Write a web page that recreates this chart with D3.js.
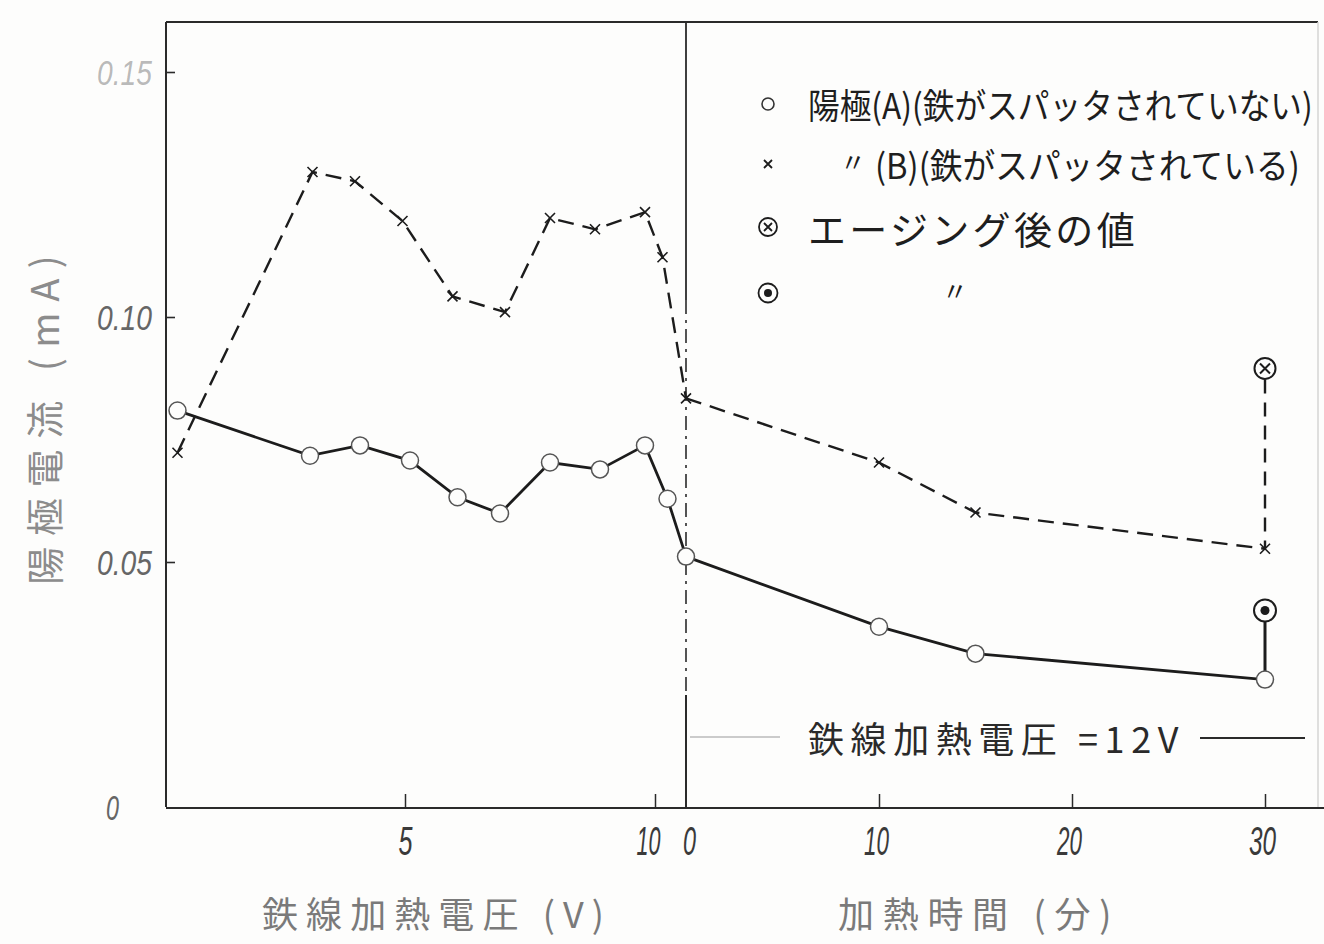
<!DOCTYPE html>
<html>
<head>
<meta charset="utf-8">
<script src="https://cdn.jsdelivr.net/npm/d3@7"></script>
<style>
  html, body { margin: 0; padding: 0; background: #fdfdfc; }
  svg { display: block; }
</style>
</head>
<body>
<script>
// Anode current vs. iron-wire heating voltage (left) and heating time at 12 V (right)

// Left panel: heating voltage (V)
const voltsA    = [0.45, 3.1, 4.1, 5.1, 6.05, 6.9, 7.9, 8.9, 9.8, 10.25, 10.62];
const currentA_V = [0.0809, 0.0717, 0.0738, 0.0707, 0.0632, 0.0599, 0.0703, 0.0689, 0.0738, 0.0629, 0.0511];
const voltsB    = [0.45, 3.15, 4.0, 4.95, 5.95, 7.0, 7.9, 8.8, 9.8, 10.15, 10.62];
const currentB_V = [0.0723, 0.1296, 0.1277, 0.1196, 0.1042, 0.1010, 0.1202, 0.1179, 0.1214, 0.1122, 0.0834];

// Right panel: heating time (min)
const minutes     = [0, 10, 15, 30];
const currentA_T  = [0.0511, 0.0368, 0.0313, 0.0260];
const currentB_T  = [0.0834, 0.0703, 0.0601, 0.0527];

// Values after ageing (at 30 min)
const agedTime = 30;
const agedA = 0.0401;
const agedB = 0.0895;

// Axis ticks and labels
const yTicks      = [0, 0.05, 0.10, 0.15];
const yTickLabels = ["0", "0.05", "0.10", "0.15"];
const voltTicks   = [5, 10];
const timeTicks   = [0, 10, 20, 30];

// Text
const yTitle     = "陽極電流 (mA)";
const voltTitle  = "鉄線加熱電圧 (V)";
const timeTitle  = "加熱時間 (分)";
const noteText   = "鉄線加熱電圧 =12V";
const legendMarkers = ["circle", "cross", "agedCross", "agedDot"];
const legendLabels  = ["陽極(A)(鉄がスパッタされていない)", "〃(B)(鉄がスパッタされている)", "エージング後の値", "〃"];

// ---------- layout ----------
const W = 1324, H = 944;
const plotLeft = 166, plotTop = 22, plotBottom = 807, divX = 686, rightEdge = 1318;
const ink = "#1c1c1c";
const jp = "'Noto Sans CJK JP', 'Noto Sans CJK SC', sans-serif";
const num = "'Liberation Sans', 'DejaVu Sans', sans-serif";

const svg = d3.select("body").append("svg").attr("width", W).attr("height", H);

const y  = d3.scaleLinear().domain([0, 0.15]).range([plotBottom, 72]);
const xV = d3.scaleLinear().domain([0.22, 10.62]).range([plotLeft, divX]);
const xT = d3.scaleLinear().domain([0, 30]).range([divX, 1265]);

// Fit a text to `width` pixels: narrow lettering is squeezed horizontally,
// short text is spread out with letter spacing.
function fit(text, width, anchorX, anchorY, extra = "") {
  text.attr("x", 0).attr("y", 0);
  const natural = text.node().getComputedTextLength();
  const n = text.text().length;
  if (natural < width && n > 1) {
    const ls = (width - natural) / n;
    text.attr("letter-spacing", ls)
      .attr("transform", `translate(${anchorX},${anchorY}) ${extra}`);
    if (text.attr("text-anchor") === "middle") text.attr("x", ls / 2);
  } else {
    const sx = width / natural;
    text.attr("transform", `translate(${anchorX},${anchorY}) ${extra} scale(${sx},1)`);
  }
  return text;
}

// ---------- frame ----------
const frame = svg.append("g").attr("stroke", "#2a2a2a").attr("fill", "none");
frame.append("line").attr("x1", plotLeft).attr("y1", plotTop).attr("x2", plotLeft).attr("y2", plotBottom).attr("stroke-width", 2);
frame.append("line").attr("x1", plotLeft).attr("y1", plotTop).attr("x2", rightEdge).attr("y2", plotTop).attr("stroke-width", 2);
frame.append("line").attr("x1", rightEdge).attr("y1", plotTop).attr("x2", rightEdge).attr("y2", plotBottom)
  .attr("stroke", "#d4d4d4").attr("stroke-width", 1.5);
// divider between the two panels (time = 0)
frame.append("line").attr("x1", divX).attr("y1", plotTop).attr("x2", divX).attr("y2", 300).attr("stroke-width", 1.8);
frame.append("line").attr("x1", divX).attr("y1", 300).attr("x2", divX).attr("y2", 695)
  .attr("stroke-width", 1.6).attr("stroke-dasharray", "14,6,3,6");
frame.append("line").attr("x1", divX).attr("y1", 695).attr("x2", divX).attr("y2", plotBottom).attr("stroke-width", 2);

// ---------- axes ----------
function styleNumbers(g, color, size) {
  g.selectAll("text")
    .attr("font-family", num).attr("font-style", "italic")
    .attr("font-size", size).attr("fill", color);
}

const yAxis = svg.append("g").attr("transform", `translate(${plotLeft},0)`)
  .call(d3.axisLeft(y).tickValues(yTicks).tickSizeInner(-9).tickSizeOuter(0).tickPadding(14)
    .tickFormat((d, i) => yTickLabels[i]));
yAxis.select(".domain").remove();
yAxis.selectAll(".tick line").attr("stroke", "#2a2a2a").attr("stroke-width", 1.6);
yAxis.selectAll(".tick").filter(d => d === 0).select("line").remove();
styleNumbers(yAxis, "#666", 36);
yAxis.selectAll("text")
  .attr("dy", "0.35em")
  .attr("fill-opacity", d => d === 0.15 ? 0.45 : 1)
  .each(function (d) {
    const t = d3.select(this);
    if (d === 0) fit(t, 13, -47, 0);
    else fit(t, 55, -14, 0);
  });

const xAxisV = svg.append("g").attr("transform", `translate(0,${plotBottom})`)
  .call(d3.axisBottom(xV).tickValues(voltTicks).tickSizeInner(-13).tickSizeOuter(0).tickPadding(20));
xAxisV.select(".domain").remove();
xAxisV.selectAll(".tick line").attr("stroke", "#2a2a2a").attr("stroke-width", 1.5);
styleNumbers(xAxisV, "#3a3a3a", 40);
xAxisV.selectAll("text").attr("dy", "0.71em")
  .each(function (d) {
    fit(d3.select(this), d < 10 ? 14 : 24, d === 10 ? -7 : 0, 20);
  });

const xAxisT = svg.append("g").attr("transform", `translate(0,${plotBottom})`)
  .call(d3.axisBottom(xT).tickValues(timeTicks).tickSizeInner(-13).tickSizeOuter(0).tickPadding(20));
xAxisT.select(".domain").remove();
xAxisT.selectAll(".tick line").attr("stroke", "#2a2a2a").attr("stroke-width", 1.5);
xAxisT.selectAll(".tick").filter(d => d === 0).select("line").remove();
styleNumbers(xAxisT, "#3a3a3a", 40);
xAxisT.selectAll("text").attr("dy", "0.71em")
  .each(function (d) {
    fit(d3.select(this), d === 0 ? 13 : (d === 30 ? 27 : 25), d === 0 ? 3 : -3, 20);
  });

// bottom axis line
svg.append("line").attr("x1", plotLeft).attr("y1", plotBottom + 1).attr("x2", W).attr("y2", plotBottom + 1)
  .attr("stroke", "#2a2a2a").attr("stroke-width", 2);

// ---------- axis titles ----------
fit(svg.append("text")
  .attr("text-anchor", "middle").attr("dominant-baseline", "central")
  .attr("font-family", jp).attr("font-size", 38).attr("fill", "#8c8c8c")
  .text(yTitle), 340, 42, (250 + 590) / 2, "rotate(-90)");

fit(svg.append("text")
  .attr("dominant-baseline", "central")
  .attr("font-family", jp).attr("font-size", 36).attr("fill", "#7a7a7a")
  .text(voltTitle), 350, 262, 912);

fit(svg.append("text")
  .attr("dominant-baseline", "central")
  .attr("font-family", jp).attr("font-size", 36).attr("fill", "#7a7a7a")
  .text(timeTitle), 282, 838, 912);

// ---------- series ----------
const ptsA_V = voltsA.map((v, i) => [xV(v), y(currentA_V[i])]);
const ptsB_V = voltsB.map((v, i) => [xV(v), y(currentB_V[i])]);
const ptsA_T = minutes.map((t, i) => [xT(t), y(currentA_T[i])]);
const ptsB_T = minutes.map((t, i) => [xT(t), y(currentB_T[i])]);
const line = d3.line();

const plot = svg.append("g");

// B: sputtered anode, dashed
[ptsB_V, ptsB_T].forEach(p => {
  plot.append("path").attr("d", line(p)).attr("fill", "none")
    .attr("stroke", ink).attr("stroke-width", 2.4).attr("stroke-dasharray", "16,9");
});
// dashed link from the aged value down to the 30-min point
plot.append("line")
  .attr("x1", xT(agedTime)).attr("y1", y(agedB) + 11)
  .attr("x2", xT(agedTime)).attr("y2", y(currentB_T[currentB_T.length - 1]))
  .attr("stroke", ink).attr("stroke-width", 2.4).attr("stroke-dasharray", "14,9");

// A: non-sputtered anode, solid
[ptsA_V, ptsA_T].forEach(p => {
  plot.append("path").attr("d", line(p)).attr("fill", "none")
    .attr("stroke", ink).attr("stroke-width", 2.8);
});
plot.append("line")
  .attr("x1", xT(agedTime)).attr("y1", y(agedA) + 11)
  .attr("x2", xT(agedTime)).attr("y2", y(currentA_T[currentA_T.length - 1]))
  .attr("stroke", ink).attr("stroke-width", 3);

// markers
function cross(g, cx, cy, s, w) {
  g.append("path").attr("d", `M${cx - s},${cy - s}L${cx + s},${cy + s}M${cx - s},${cy + s}L${cx + s},${cy - s}`)
    .attr("stroke", ink).attr("stroke-width", w).attr("fill", "none");
}
function ring(g, cx, cy, r) {
  g.append("circle").attr("cx", cx).attr("cy", cy).attr("r", r)
    .attr("fill", "#fdfdfc").attr("stroke", "#555").attr("stroke-width", 1.5);
}
[...ptsB_V, ...ptsB_T.slice(1)].forEach(([cx, cy]) => cross(plot, cx, cy, 5, 1.6));
[...ptsA_V, ...ptsA_T.slice(1)].forEach(([cx, cy]) => ring(plot, cx, cy, 8.5));

// aged markers
function agedCross(g, cx, cy) {
  g.append("circle").attr("cx", cx).attr("cy", cy).attr("r", 10.5)
    .attr("fill", "#fdfdfc").attr("stroke", ink).attr("stroke-width", 2);
  cross(g, cx, cy, 5, 2);
}
function agedDot(g, cx, cy) {
  g.append("circle").attr("cx", cx).attr("cy", cy).attr("r", 11)
    .attr("fill", "#fdfdfc").attr("stroke", ink).attr("stroke-width", 2);
  g.append("circle").attr("cx", cx).attr("cy", cy).attr("r", 4.5).attr("fill", ink);
}
agedCross(plot, xT(agedTime), y(agedB));
agedDot(plot, xT(agedTime), y(agedA));

// ---------- legend ----------
const legend = svg.append("g");
const rowY = [104, 164, 227, 293];
const rowWidths = [505, 425, 330, 0];
const rowSizes = [35, 35, 38, 26];
legendMarkers.forEach((m, i) => {
  const cx = 768, cy = rowY[i];
  if (m === "circle") {
    legend.append("circle").attr("cx", cx).attr("cy", cy).attr("r", 6)
      .attr("fill", "none").attr("stroke", "#333").attr("stroke-width", 1.6);
  } else if (m === "cross") {
    cross(legend, cx, cy, 4, 1.8);
  } else if (m === "agedCross") {
    legend.append("circle").attr("cx", cx).attr("cy", cy).attr("r", 9)
      .attr("fill", "none").attr("stroke", ink).attr("stroke-width", 1.8);
    cross(legend, cx, cy, 4, 1.8);
  } else {
    legend.append("circle").attr("cx", cx).attr("cy", cy).attr("r", 9.5)
      .attr("fill", "none").attr("stroke", ink).attr("stroke-width", 1.8);
    legend.append("circle").attr("cx", cx).attr("cy", cy).attr("r", 4).attr("fill", ink);
  }

  const label = legendLabels[i];
  const font = s => s.attr("font-family", jp).attr("fill", "#1e1e1e").attr("dominant-baseline", "central");
  if (label.startsWith("〃")) {
    const dittoX = label.length === 1 ? 942 : 840;
    legend.append("text").attr("x", dittoX).attr("y", cy - 4).attr("font-size", 26)
      .call(font).text("〃");
    if (label.length > 1) {
      fit(legend.append("text").attr("font-size", rowSizes[i]).call(font).text(label.slice(1)),
        rowWidths[i], 875, cy);
    }
  } else {
    fit(legend.append("text").attr("font-size", rowSizes[i]).call(font).text(label),
      rowWidths[i], 808, cy);
  }
});

// ---------- 12 V note ----------
svg.append("line").attr("x1", divX + 4).attr("y1", 737).attr("x2", 780).attr("y2", 737)
  .attr("stroke", "#9a9a9a").attr("stroke-width", 1.2);
fit(svg.append("text").attr("dominant-baseline", "central")
  .attr("font-family", jp).attr("font-size", 36).attr("fill", "#2a2a2a")
  .text(noteText), 377, 808, 737);
svg.append("line").attr("x1", 1200).attr("y1", 738).attr("x2", 1305).attr("y2", 738)
  .attr("stroke", "#2a2a2a").attr("stroke-width", 2);
</script>
</body>
</html>
